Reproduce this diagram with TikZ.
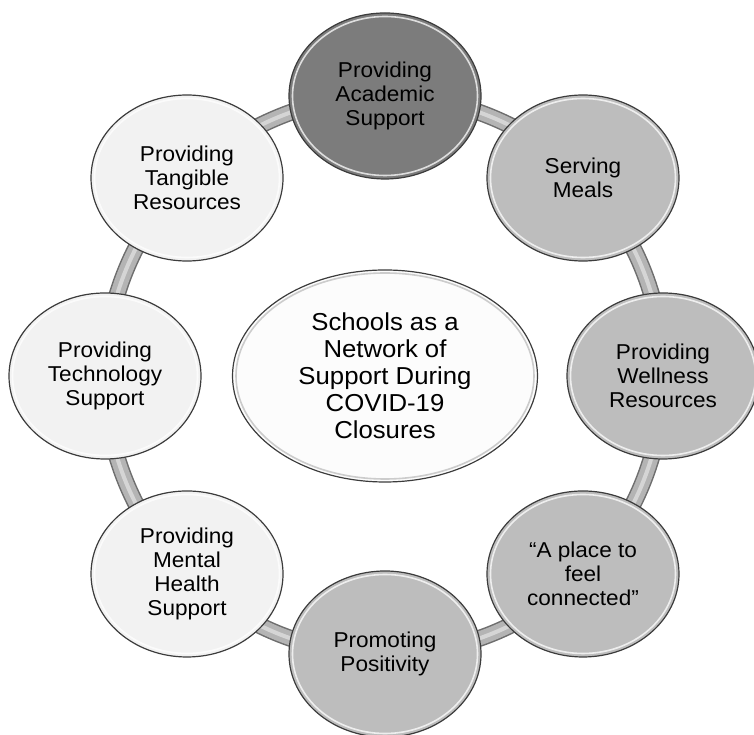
\documentclass[tikz,border=0pt]{standalone}
\usepackage{fontspec}
\setmainfont[FakeStretch=1.05]{Liberation Sans}
\usetikzlibrary{shapes.geometric}
\pgfdeclarelayer{background}
\pgfsetlayers{background,main}
\definecolor{edgecol}{HTML}{3C3C3C}
\definecolor{darkfill}{HTML}{7C7C7C}
\definecolor{midfill}{HTML}{BDBDBD}
\definecolor{lightfill}{HTML}{F2F2F2}
\definecolor{centerfill}{HTML}{FCFCFC}
\definecolor{bandedge}{HTML}{6E6E6E}
\definecolor{bandfill}{HTML}{B4B4B4}
\tikzset{
  bubble/.style={ellipse, draw=edgecol, line width=1.2pt, minimum width=192pt, minimum height=166pt, inner sep=0pt,
    align=center, font=\fontsize{21.5}{24}\selectfont,
    path picture={\draw[white, opacity=.75, line width=1.6pt] (path picture bounding box.center) ellipse [x radius=92.5pt, y radius=79.5pt];}},
  hub/.style={ellipse, draw=edgecol, line width=1.2pt, minimum width=305pt, minimum height=212pt, inner sep=0pt,
    fill=centerfill, align=center, font=\fontsize{24.5}{27}\selectfont,
    path picture={\draw[gray!40, line width=1.6pt] (path picture bounding box.center) ellipse [x radius=149pt, y radius=103pt];}},
  band/.style={draw=bandedge, line width=17pt,
    postaction={draw=bandfill, line width=14pt},
    postaction={draw=white, opacity=.45, line width=4pt}},
  ringlink/.style={band, bend left=22.5, looseness=0.886}
}
\begin{document}
\begin{tikzpicture}[x=1pt, y=1pt]
\useasboundingbox (0,0) rectangle (754,735);
\coordinate (C) at (385,359);
\node[hub] (hub) at (C) {Schools as a\\Network of\\Support During\\COVID-19\\Closures};
\node[bubble, fill=darkfill] (acad) at ([shift={(90:280)}]C) {Providing\\Academic\\Support};
\node[bubble, fill=midfill] (meals) at ([shift={(45:280)}]C) {Serving\\Meals};
\node[bubble, fill=midfill] (well) at ([shift={(0:278)}]C) {Providing\\Wellness\\Resources};
\node[bubble, fill=midfill] (place) at ([shift={(-45:280)}]C) {“A place to\\feel\\connected”};
\node[bubble, fill=midfill] (posit) at ([shift={(-90:278)}]C) {Promoting\\Positivity};
\node[bubble, fill=lightfill] (mental) at ([shift={(-135:280)}]C) {Providing\\Mental\\Health\\Support};
\node[bubble, fill=lightfill] (tech) at ([shift={(180:280)}]C) {Providing\\Technology\\Support};
\node[bubble, fill=lightfill] (tang) at ([shift={(135:280)}]C) {Providing\\Tangible\\Resources};
\begin{pgfonlayer}{background}
\draw[ringlink] (acad.center) to (meals.center);
\draw[ringlink] (meals.center) to (well.center);
\draw[ringlink] (well.center) to (place.center);
\draw[ringlink] (place.center) to (posit.center);
\draw[ringlink] (posit.center) to (mental.center);
\draw[ringlink] (mental.center) to (tech.center);
\draw[ringlink] (tech.center) to (tang.center);
\draw[ringlink] (tang.center) to (acad.center);
\end{pgfonlayer}
\end{tikzpicture}
\end{document}
